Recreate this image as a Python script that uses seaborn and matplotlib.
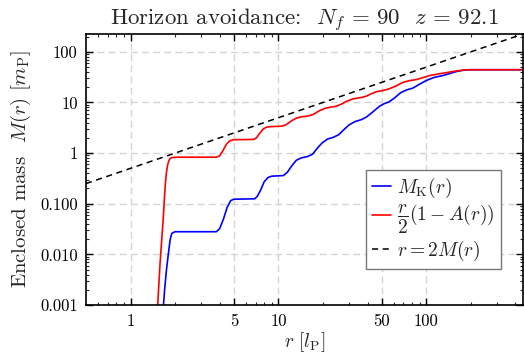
import matplotlib
matplotlib.use("Agg")
import matplotlib.pyplot as plt
import seaborn as sns
import pandas as pd
from matplotlib.ticker import FixedLocator, FixedFormatter, LogLocator, NullFormatter

# ---- data ----
red_r = [1.52, 1.58, 1.63, 1.66, 1.69, 1.72, 1.75, 1.78, 1.82, 1.86, 1.92, 2.05, 3.8, 4.0, 4.2,
         4.45, 4.7, 5.0, 6.8, 7.1, 7.5, 7.9, 8.3, 8.8, 10.5, 11.2, 12.2, 13.2, 14.3, 15.8, 17.2,
         18.8, 20.5, 22.5, 24.5, 26.5, 29.0, 32.0, 36.6, 39.5, 42.0, 46.0, 51.0, 56.0, 62.0,
         69.5, 77.0, 86.0, 95.0, 105.0, 120.0, 135.0, 155.0, 176.0, 195.0, 450.0]
red_M = [0.0008, 0.006, 0.022, 0.046, 0.11, 0.25, 0.42, 0.58, 0.72, 0.79, 0.82, 0.83, 0.83, 0.88,
         1.1, 1.5, 1.76, 1.84, 1.86, 2.0, 2.5, 3.0, 3.25, 3.33, 3.4, 3.6, 4.3, 4.9, 5.2, 5.4, 5.8,
         6.8, 7.6, 8.1, 8.4, 9.2, 10.6, 11.8, 12.6, 13.4, 14.7, 16.3, 17.2, 18.6, 21.0,
         25.0, 27.0, 28.4, 31.0, 34.0, 36.5, 38.6, 41.5, 43.5, 44.3, 44.3]

blue_r = [1.66, 1.70, 1.75, 1.80, 1.85, 1.90, 2.0, 3.8, 4.0, 4.25, 4.5, 4.75, 5.0, 6.9, 7.2, 7.6,
          8.0, 8.5, 9.0, 10.8, 11.5, 12.3, 13.2, 14.2, 15.8, 17.0, 18.3, 19.8, 21.5, 23.5, 25.5,
          27.5, 30.0, 33.0, 36.5, 39.5, 42.0, 45.0, 48.5, 52.0, 56.0, 61.0, 67.0, 74.0, 81.0,
          90.0, 100.0, 112.0, 129.0, 145.0, 163.0, 185.0, 200.0, 450.0]
blue_M = [0.0008, 0.002, 0.005, 0.010, 0.019, 0.026, 0.028, 0.028, 0.032, 0.05, 0.085, 0.115,
          0.123, 0.125, 0.14, 0.19, 0.27, 0.33, 0.35, 0.36, 0.42, 0.56, 0.72, 0.80, 0.86, 0.95,
          1.25, 1.6, 1.9, 2.05, 2.3, 2.85, 3.6, 4.2, 4.6, 5.2, 6.0, 7.1, 8.5, 9.5, 10.3, 12.3,
          15.6, 17.8, 19.2, 23.0, 27.2, 31.0, 34.0, 37.5, 41.5, 44.0, 44.3, 44.3]

line_r = [0.5, 450.0]
line_M = [0.25, 225.0]

x_ticks = [1, 5, 10, 50, 100]
x_ticklabels = ["1", "5", "10", "50", "100"]
y_ticks = [0.001, 0.01, 0.1, 1, 10, 100]
y_ticklabels = ["0.001", "0.010", "0.100", "1", "10", "100"]

lab_blue = r"$M_{\rm K}(r)$"
lab_red = r"$\dfrac{r}{2}(1-A(r))$"
lab_line = r"$r=2M(r)$"

# ---- style ----
sns.set_theme(style="ticks")
plt.rcParams.update({
    "font.family": ["serif"],
    "font.serif": ["cmr10", "DejaVu Serif"],
    "mathtext.fontset": "cm",
    "axes.formatter.use_mathtext": True,
    "axes.unicode_minus": False,
    "xtick.direction": "in",
    "ytick.direction": "in",
    "xtick.top": True,
    "ytick.right": True,
})

fig = plt.figure(figsize=(5.24, 3.56), dpi=100)
ax = fig.add_axes([86/524, 1 - 305/356, 437/524, 271/356])

df_b = pd.DataFrame({"r": blue_r, "M": blue_M})
df_r = pd.DataFrame({"r": red_r, "M": red_M})
df_l = pd.DataFrame({"r": line_r, "M": line_M})

sns.lineplot(data=df_b, x="r", y="M", ax=ax, color="#0000ff", lw=1.2, label=lab_blue, sort=False)
sns.lineplot(data=df_r, x="r", y="M", ax=ax, color="#ff0000", lw=1.2, label=lab_red, sort=False)
sns.lineplot(data=df_l, x="r", y="M", ax=ax, color="black", lw=1.1, label=lab_line, sort=False)
ax.lines[-1].set_dashes([4, 3])

ax.set_xscale("log")
ax.set_yscale("log")
ax.set_xlim(0.5, 450)
ax.set_ylim(0.001, 225)

ax.xaxis.set_major_locator(FixedLocator(x_ticks))
ax.xaxis.set_major_formatter(FixedFormatter(x_ticklabels))
ax.xaxis.set_minor_locator(LogLocator(base=10, subs=[2, 3, 4, 6, 7, 8, 9], numticks=20))
ax.xaxis.set_minor_formatter(NullFormatter())
ax.yaxis.set_major_locator(FixedLocator(y_ticks))
ax.yaxis.set_major_formatter(FixedFormatter(y_ticklabels))
ax.yaxis.set_minor_locator(LogLocator(base=10, subs=list(range(2, 10)), numticks=20))
ax.yaxis.set_minor_formatter(NullFormatter())

ax.tick_params(which="major", length=5, width=1.0, labelsize=12, colors="black", pad=6)
ax.tick_params(which="minor", length=2.5, width=0.8)
for s in ax.spines.values():
    s.set_linewidth(1.2)
    s.set_color("black")

ax.grid(True, which="major", color="#d4d4d4", ls=(0, (5, 3)), lw=1.0)
ax.set_axisbelow(True)

ax.set_xlabel(r"$r\ [l_{\rm P}]$", fontsize=14, labelpad=1)
ax.set_ylabel(r"Enclosed mass  $M(r)\ [m_{\rm P}]$", fontsize=15, labelpad=5)
ax.set_title(r"Horizon avoidance:  $N_f\,=\,90$  $z\,=\,92.1$", fontsize=16.5, pad=5)

leg = ax.legend(loc="lower left", bbox_to_anchor=((366 - 86) / 437, (305 - 269) / 271),
                borderaxespad=0, fontsize=14, fancybox=False, framealpha=1,
                edgecolor="#777777", handlelength=1.0, handletextpad=0.3,
                labelspacing=0.15, borderpad=0.3)
leg.get_frame().set_linewidth(1.0)

fig.savefig("out.png", dpi=100)
